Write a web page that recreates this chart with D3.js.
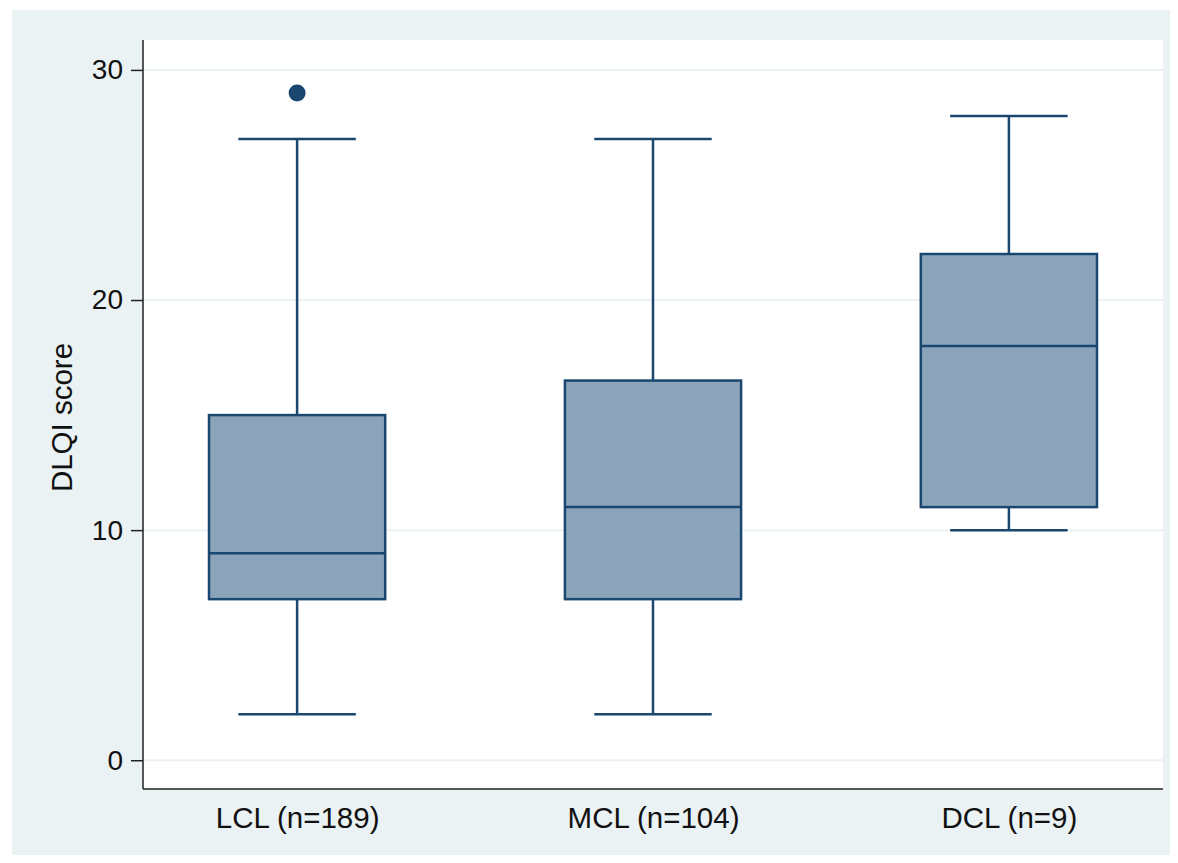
<!DOCTYPE html>
<html>
<head>
<meta charset="utf-8">
<script src="https://d3js.org/d3.v7.min.js"></script>
<style>
  body { margin: 0; background: #fff; }
  text { font-family: "Liberation Sans", Arial, sans-serif; fill: #111; }
</style>
</head>
<body>
<svg id="chart" width="1178" height="863"></svg>
<script>
// box plot summaries
const groups = ["LCL (n=189)", "MCL (n=104)", "DCL (n=9)"];
const lowWhisker = [2, 2, 10];
const q1 = [7, 7, 11];
const median = [9, 11, 18];
const q3 = [15, 16.5, 22];
const highWhisker = [27, 27, 28];
const outliers = [{group: "LCL (n=189)", value: 29}];
const yTicks = [0, 10, 20, 30];

const navy = "#1a476f";
const boxFill = "#8ca4ba";

const svg = d3.select("#chart");

// outer graph region
svg.append("rect")
  .attr("x", 12).attr("y", 10)
  .attr("width", 1158).attr("height", 845)
  .attr("fill", "#eaf2f3");

const margin = {top: 40, right: 15, bottom: 74, left: 143},
    width = 1178 - margin.left - margin.right,
    height = 863 - margin.top - margin.bottom;

const g = svg.append("g")
  .attr("transform", `translate(${margin.left},${margin.top})`);

// plot region
g.append("rect")
  .attr("width", width).attr("height", height)
  .attr("fill", "#fff");

const x = d3.scalePoint()
  .domain(groups)
  .range([0, width])
  .padding(0.433);

const y = d3.scaleLinear()
  .domain([-1.25, 31.3])
  .range([height, 0]);

const step = x.step();
const boxW = step * 0.495;
const capW = step * 0.33;

// gridlines
g.selectAll(".grid")
  .data(yTicks)
  .join("line")
    .attr("x1", 0).attr("x2", width)
    .attr("y1", d => y(d)).attr("y2", d => y(d))
    .attr("stroke", "#eaf2f3")
    .attr("stroke-width", 2);

const data = groups.map((name, i) => ({
  name, lo: lowWhisker[i], q1: q1[i], med: median[i], q3: q3[i], hi: highWhisker[i]
}));

const box = g.selectAll(".box")
  .data(data)
  .join("g")
    .attr("transform", d => `translate(${x(d.name)},0)`);

// whiskers
box.append("line")
  .attr("y1", d => y(d.lo)).attr("y2", d => y(d.q1))
  .attr("stroke", navy).attr("stroke-width", 2.5);
box.append("line")
  .attr("y1", d => y(d.q3)).attr("y2", d => y(d.hi))
  .attr("stroke", navy).attr("stroke-width", 2.5);
box.append("line")
  .attr("x1", -capW / 2).attr("x2", capW / 2)
  .attr("y1", d => y(d.lo)).attr("y2", d => y(d.lo))
  .attr("stroke", navy).attr("stroke-width", 2.5);
box.append("line")
  .attr("x1", -capW / 2).attr("x2", capW / 2)
  .attr("y1", d => y(d.hi)).attr("y2", d => y(d.hi))
  .attr("stroke", navy).attr("stroke-width", 2.5);

// boxes
box.append("rect")
  .attr("x", -boxW / 2).attr("width", boxW)
  .attr("y", d => y(d.q3))
  .attr("height", d => y(d.q1) - y(d.q3))
  .attr("fill", boxFill)
  .attr("stroke", navy).attr("stroke-width", 2.5);
box.append("line")
  .attr("x1", -boxW / 2).attr("x2", boxW / 2)
  .attr("y1", d => y(d.med)).attr("y2", d => y(d.med))
  .attr("stroke", navy).attr("stroke-width", 2.5);

// outliers
g.selectAll(".outlier")
  .data(outliers)
  .join("circle")
    .attr("cx", d => x(d.group))
    .attr("cy", d => y(d.value))
    .attr("r", 8.5)
    .attr("fill", navy);

// Y axis
const yAxis = g.append("g")
  .call(d3.axisLeft(y).tickValues(yTicks).tickSize(12).tickPadding(8));
yAxis.select(".domain").remove();
yAxis.selectAll(".tick line").attr("stroke", "#222").attr("stroke-width", 1.5);
yAxis.selectAll(".tick text")
  .style("font-size", "28px")
  .style("font-family", '"Liberation Sans", Arial, sans-serif')
  .attr("fill", "#111");

// X axis labels
const xAxis = g.append("g")
  .attr("transform", `translate(0,${height})`)
  .call(d3.axisBottom(x).tickSize(0).tickPadding(18));
xAxis.select(".domain").remove();
xAxis.selectAll(".tick text")
  .style("font-size", "29.5px")
  .style("font-family", '"Liberation Sans", Arial, sans-serif')
  .attr("fill", "#111");

// axis lines
g.append("line")
  .attr("x1", 0).attr("x2", 0).attr("y1", 0).attr("y2", height)
  .attr("stroke", "#222").attr("stroke-width", 1.5);
g.append("line")
  .attr("x1", 0).attr("x2", width).attr("y1", height).attr("y2", height)
  .attr("stroke", "#222").attr("stroke-width", 1.5);

// Y axis title
svg.append("text")
  .attr("transform", `translate(72,${margin.top + height / 2 + 3}) rotate(-90)`)
  .attr("text-anchor", "middle")
  .style("font-size", "29.5px")
  .text("DLQI score");
</script>
</body>
</html>
